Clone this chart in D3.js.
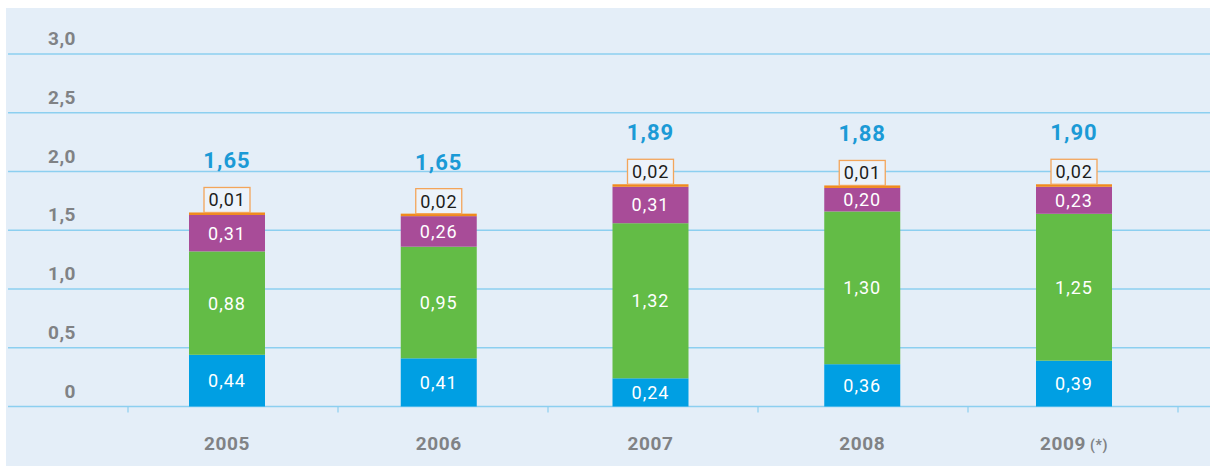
<!DOCTYPE html>
<html>
<head>
<meta charset="utf-8">
<script src="https://cdn.jsdelivr.net/npm/d3@7/dist/d3.min.js"></script>
<style>
  body { margin: 0; background: #fff; }
  svg { display: block; font-family: Roboto, "DejaVu Sans", sans-serif; }
</style>
</head>
<body>
<div class="chart"></div>
<script>
const years = ["2005", "2006", "2007", "2008", "2009"];
const yearSuffix = ["", "", "", "", " (*)"];
const blueVals = [0.44, 0.41, 0.24, 0.36, 0.39];
const greenVals = [0.88, 0.95, 1.32, 1.30, 1.25];
const purpleVals = [0.31, 0.26, 0.31, 0.20, 0.23];
const orangeVals = [0.01, 0.02, 0.02, 0.01, 0.02];
const totals = [1.65, 1.65, 1.89, 1.88, 1.90];
const yTicks = [0, 0.5, 1.0, 1.5, 2.0, 2.5, 3.0];

const seriesColors = ["#009fe3", "#63bc46", "#a84c98", "#f08a1d"];
const fmt = v => v === 0 ? "0" : d3.format(".2f")(v).replace(".", ",");
const fmtTick = v => v === 0 ? "0" : d3.format(".1f")(v).replace(".", ",");

const W = 1210, H = 466;

let svg = d3.select(".chart").append("svg")
    .attr("width", W)
    .attr("height", H);

// light panel
svg.append("rect")
    .attr("x", 6).attr("y", 8)
    .attr("width", W - 6).attr("height", H - 8)
    .attr("fill", "#e4eef8");

let y = d3.scaleLinear()
    .domain([0, 3])
    .range([406.5, 54]);

// bars centres
let x = d3.scalePoint()
    .domain(years)
    .range([227, 1074]);

// category separators on the baseline
let xTick = d3.scaleBand()
    .domain(years)
    .range([128, 1178]);

const barW = 76;

// gridlines + labels
svg.selectAll(".grid")
    .data(yTicks)
    .enter().append("line")
    .attr("class", "grid")
    .attr("x1", 8).attr("x2", W)
    .attr("y1", d => y(d)).attr("y2", d => y(d))
    .attr("stroke", "#8ccff0")
    .attr("stroke-width", 1.5);

svg.selectAll(".ytick")
    .data(yTicks)
    .enter().append("text")
    .attr("class", "ytick")
    .attr("x", 76)
    .attr("y", d => y(d) - 9)
    .attr("text-anchor", "end")
    .attr("font-size", 19)
    .attr("font-weight", "bold")
    .attr("letter-spacing", 0.5)
    .attr("fill", "#808285")
    .text(fmtTick);

// baseline ticks
let tickPos = years.map(d => xTick(d)).concat([xTick.range()[1]]);
svg.selectAll(".xtick")
    .data(tickPos)
    .enter().append("line")
    .attr("class", "xtick")
    .attr("x1", d => d).attr("x2", d => d)
    .attr("y1", y(0)).attr("y2", y(0) + 6)
    .attr("stroke", "#8ccff0")
    .attr("stroke-width", 1.2);

// stacked segments
let rows = years.map((yr, i) => {
    let vals = [blueVals[i], greenVals[i], purpleVals[i], orangeVals[i]];
    let acc = 0;
    let segs = vals.map((v, k) => {
        let s = {year: yr, k: k, v: v, y0: acc, y1: acc + v};
        acc += v;
        return s;
    });
    return {year: yr, segs: segs, top: acc, total: totals[i], i: i};
});

let g = svg.selectAll(".bar")
    .data(rows)
    .enter().append("g")
    .attr("class", "bar");

g.selectAll("rect")
    .data(d => d.segs)
    .enter().append("rect")
    .attr("x", d => x(d.year) - barW / 2)
    .attr("width", barW)
    .attr("y", d => d.k === 3 ? Math.min(y(d.y1), y(d.y0) - 2.5) : y(d.y1))
    .attr("height", d => d.k === 3 ? Math.max(y(d.y0) - y(d.y1), 2.5) : y(d.y0) - y(d.y1))
    .attr("fill", d => seriesColors[d.k]);

// white labels inside segments
g.selectAll(".seg-label")
    .data(d => d.segs.filter(s => s.k < 3))
    .enter().append("text")
    .attr("class", "seg-label")
    .attr("x", d => x(d.year))
    .attr("y", d => (y(d.y0) + y(d.y1)) / 2 + 6.5)
    .attr("text-anchor", "middle")
    .attr("font-size", 18)
    .attr("letter-spacing", 1)
    .attr("fill", "#fff")
    .text(d => fmt(d.v));

// orange boxed small value on top
const boxW = 46, boxH = 25;
let topY = d => Math.min(y(d.top), y(d.top - d.segs[3].v) - 2.5);
g.append("rect")
    .attr("x", d => x(d.year) - boxW / 2)
    .attr("y", d => topY(d) - boxH)
    .attr("width", boxW)
    .attr("height", boxH)
    .attr("fill", "#edf3fa")
    .attr("stroke", "#f3a55a")
    .attr("stroke-width", 1.3);

g.append("text")
    .attr("x", d => x(d.year))
    .attr("y", d => topY(d) - 6)
    .attr("text-anchor", "middle")
    .attr("font-size", 18)
    .attr("letter-spacing", 0.8)
    .attr("fill", "#1d1d1b")
    .text(d => fmt(d.segs[3].v));

// totals
g.append("text")
    .attr("x", d => x(d.year))
    .attr("y", d => topY(d) - boxH - 19)
    .attr("text-anchor", "middle")
    .attr("font-size", 22)
    .attr("font-weight", "bold")
    .attr("letter-spacing", 1)
    .attr("fill", "#1b9ad6")
    .text(d => fmt(d.total));

// year labels
let yl = svg.selectAll(".year")
    .data(years)
    .enter().append("text")
    .attr("class", "year")
    .attr("x", d => x(d))
    .attr("y", 450)
    .attr("text-anchor", "middle")
    .attr("font-size", 19)
    .attr("font-weight", "bold")
    .attr("letter-spacing", 0.6)
    .attr("fill", "#808285");
yl.append("tspan").text(d => d);
yl.append("tspan")
    .attr("font-size", 14)
    .text((d, i) => yearSuffix[i]);
</script>
</body>
</html>
